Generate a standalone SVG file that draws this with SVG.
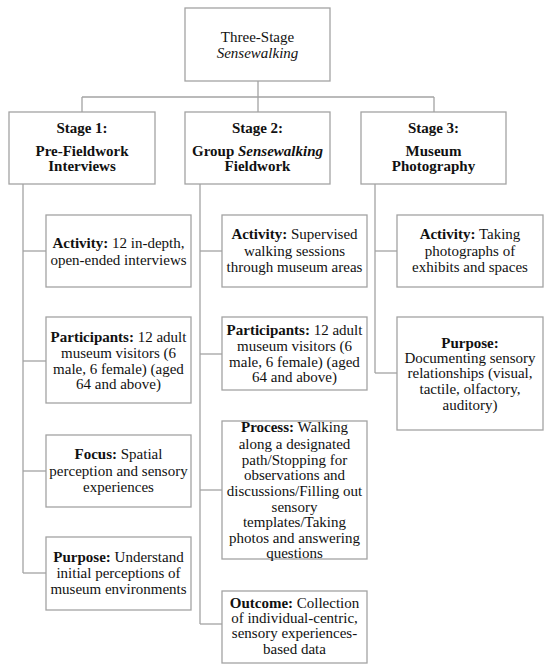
<svg xmlns="http://www.w3.org/2000/svg" width="550" height="670" viewBox="0 0 550 670">
<style>
rect{fill:#fff;stroke:#a3a3a3;stroke-width:1.3}
.c line{stroke:#a3a3a3;stroke-width:1.3}
text{font-family:"Liberation Serif","Times New Roman",serif;font-size:15px;fill:#111;text-anchor:middle}
.b{font-weight:bold}
.i{font-style:italic}
</style>
<rect x="0" y="0" width="550" height="670" style="fill:#fff;stroke:none"/>
<g class="c" id="connectors">
<line x1="258" y1="81" x2="258" y2="97"/>
<line x1="82" y1="97" x2="434" y2="97"/>
<line x1="82" y1="97" x2="82" y2="112"/>
<line x1="258" y1="97" x2="258" y2="112"/>
<line x1="434" y1="97" x2="434" y2="112"/>
<line x1="23" y1="184" x2="23" y2="573"/>
<line x1="23" y1="251" x2="46" y2="251"/>
<line x1="23" y1="361" x2="46" y2="361"/>
<line x1="23" y1="471" x2="46" y2="471"/>
<line x1="23" y1="573" x2="46" y2="573"/>
<line x1="200" y1="184" x2="200" y2="624"/>
<line x1="200" y1="251" x2="222" y2="251"/>
<line x1="200" y1="354" x2="222" y2="354"/>
<line x1="200" y1="490" x2="222" y2="490"/>
<line x1="200" y1="624" x2="222" y2="624"/>
<line x1="375" y1="184" x2="375" y2="373"/>
<line x1="375" y1="251" x2="397" y2="251"/>
<line x1="375" y1="373" x2="397" y2="373"/>
</g>
<g id="root">
<rect x="185" y="8" width="145" height="73"/>
<text x="257.5" y="42">Three-Stage</text>
<text x="257.5" y="58" class="i">Sensewalking</text>
</g>
<g id="stage1">
<rect x="9" y="112" width="146" height="72"/>
<text x="82" y="133" class="b">Stage 1:</text>
<text x="82" y="156" class="b">Pre-Fieldwork</text>
<text x="82" y="171" class="b">Interviews</text>
</g>
<g id="stage2">
<rect x="185" y="112" width="145" height="72"/>
<text x="257.5" y="133" class="b">Stage 2:</text>
<text x="257.5" y="156" class="b">Group <tspan class="i">Sensewalking</tspan></text>
<text x="257.5" y="171" class="b">Fieldwork</text>
</g>
<g id="stage3">
<rect x="361" y="112" width="145" height="72"/>
<text x="433.5" y="133" class="b">Stage 3:</text>
<text x="433.5" y="156" class="b">Museum</text>
<text x="433.5" y="171" class="b">Photography</text>
</g>
<g id="s1-activity">
<rect x="46" y="215" width="145" height="72"/>
<text x="118.5" y="248"><tspan class="b">Activity:</tspan> 12 in-depth,</text>
<text x="118.5" y="265">open-ended interviews</text>
</g>
<g id="s1-participants">
<rect x="46" y="317" width="145" height="86"/>
<text x="118.5" y="342"><tspan class="b">Participants:</tspan> 12 adult</text>
<text x="118.5" y="358">museum visitors (6</text>
<text x="118.5" y="374">male, 6 female) (aged</text>
<text x="118.5" y="389">64 and above)</text>
</g>
<g id="s1-focus">
<rect x="46" y="435" width="145" height="72"/>
<text x="118.5" y="459"><tspan class="b">Focus:</tspan> Spatial</text>
<text x="118.5" y="476">perception and sensory</text>
<text x="118.5" y="492">experiences</text>
</g>
<g id="s1-purpose">
<rect x="46" y="537" width="145" height="73"/>
<text x="118.5" y="562"><tspan class="b">Purpose:</tspan> Understand</text>
<text x="118.5" y="578">initial perceptions of</text>
<text x="118.5" y="594">museum environments</text>
</g>
<g id="s2-activity">
<rect x="222" y="215" width="145" height="72"/>
<text x="294.5" y="239"><tspan class="b">Activity:</tspan> Supervised</text>
<text x="294.5" y="256">walking sessions</text>
<text x="294.5" y="272">through museum areas</text>
</g>
<g id="s2-participants">
<rect x="222" y="317" width="145" height="73"/>
<text x="294.5" y="335"><tspan class="b">Participants:</tspan> 12 adult</text>
<text x="294.5" y="351">museum visitors (6</text>
<text x="294.5" y="367">male, 6 female) (aged</text>
<text x="294.5" y="382">64 and above)</text>
</g>
<g id="s2-process">
<rect x="222" y="421" width="145" height="138"/>
<text x="294.5" y="432"><tspan class="b">Process:</tspan> Walking</text>
<text x="294.5" y="449">along a designated</text>
<text x="294.5" y="465">path/Stopping for</text>
<text x="294.5" y="480">observations and</text>
<text x="294.5" y="496">discussions/Filling out</text>
<text x="294.5" y="512">sensory</text>
<text x="294.5" y="527">templates/Taking</text>
<text x="294.5" y="543">photos and answering</text>
<text x="294.5" y="558">questions</text>
</g>
<g id="s2-outcome">
<rect x="222" y="591" width="145" height="72"/>
<text x="294.5" y="608"><tspan class="b">Outcome:</tspan> Collection</text>
<text x="294.5" y="623">of individual-centric,</text>
<text x="294.5" y="638">sensory experiences-</text>
<text x="294.5" y="654">based data</text>
</g>
<g id="s3-activity">
<rect x="397" y="215" width="146" height="72"/>
<text x="470" y="239"><tspan class="b">Activity:</tspan> Taking</text>
<text x="470" y="256">photographs of</text>
<text x="470" y="272">exhibits and spaces</text>
</g>
<g id="s3-purpose">
<rect x="397" y="317" width="146" height="113"/>
<text x="470" y="348" class="b">Purpose:</text>
<text x="470" y="363">Documenting sensory</text>
<text x="470" y="378">relationships (visual,</text>
<text x="470" y="394">tactile, olfactory,</text>
<text x="470" y="410">auditory)</text>
</g>
</svg>
